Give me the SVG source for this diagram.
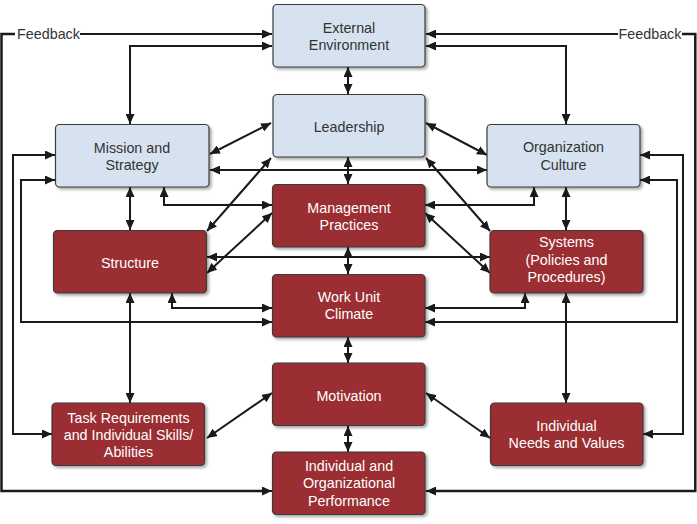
<svg xmlns="http://www.w3.org/2000/svg" width="697" height="524" viewBox="0 0 697 524">
<defs>
<style>
.bx{stroke:#3a3a3a;stroke-width:1.2}
.bl{fill:#d6e2f0}
.rd{fill:#9a2e33}
.t{font-family:"Liberation Sans",Arial,sans-serif;font-size:14.3px;text-anchor:middle}
.tb{fill:#333}
.tw{fill:#fff}
.c{fill:none;stroke:#1a1a1a;stroke-width:2;marker-start:url(#a);marker-end:url(#a)}
.e{fill:none;stroke:#1a1a1a;stroke-width:2;marker-end:url(#a)}
.f{fill:none;stroke:#1a1a1a;stroke-width:2.5}
</style>
<marker id="a" viewBox="0 0 10 9" refX="10" refY="4.5" markerWidth="10" markerHeight="9" markerUnits="userSpaceOnUse" orient="auto-start-reverse">
<path d="M0,0 L10,4.5 L0,9 z" fill="#1a1a1a"/>
</marker>
<filter id="sh" x="-10%" y="-10%" width="130%" height="140%">
<feDropShadow dx="2" dy="2" stdDeviation="1.5" flood-color="#000" flood-opacity="0.35"/>
</filter>
</defs>
<rect width="697" height="524" fill="#fff"/>

<g id="connectors">
<text class="t tb" x="48.5" y="39">Feedback</text>
<text class="t tb" x="650" y="39">Feedback</text>
<path class="e" d="M80,34 L272,34"/>
<path class="f" d="M15,34 L1.5,34 L1.5,491 L262,491"/>
<path class="e" d="M262,491 L272,491"/>
<path class="e" d="M618,34 L426,34"/>
<path class="f" d="M682,34 L695.3,34 L695.3,491 L436,491"/>
<path class="e" d="M436,491 L426,491"/>
<path class="c" d="M272,46 L130,46 L130,124"/>
<path class="c" d="M426,46 L566,46 L566,124"/>
<path class="c" d="M348,67 L348,94"/>
<path class="c" d="M210,154 L271,123"/>
<path class="c" d="M426,123 L487,155"/>
<path class="c" d="M210,170 L487,170"/>
<path class="c" d="M348,157 L348,184"/>
<path class="c" d="M271,158 L207,231"/>
<path class="c" d="M426,158 L490,231"/>
<path class="c" d="M272,213 L207,273"/>
<path class="c" d="M425,213 L490,273"/>
<path class="c" d="M164,187 L164,205 L272,205"/>
<path class="c" d="M534,187 L534,205 L425,205"/>
<path class="c" d="M130,187 L130,230"/>
<path class="c" d="M566,187 L566,230"/>
<path class="c" d="M207,257 L490,257"/>
<path class="c" d="M348,247 L348,274"/>
<path class="c" d="M172,293 L172,308 L272,308"/>
<path class="c" d="M525,293 L525,308 L425,308"/>
<path class="c" d="M55,180 L21,180 L21,322 L272,322"/>
<path class="c" d="M640,180 L677,180 L677,322 L425,322"/>
<path class="c" d="M55,155 L13,155 L13,434 L52,434"/>
<path class="c" d="M640,155 L683,155 L683,434 L643,434"/>
<path class="c" d="M130,293 L130,403"/>
<path class="c" d="M566,293 L566,403"/>
<path class="c" d="M348,337 L348,363"/>
<path class="c" d="M272,393 L207,438"/>
<path class="c" d="M426,393 L490,438"/>
<path class="c" d="M348,426 L348,452"/>
</g>

<g id="external-environment">
<rect class="bx bl" x="273" y="4.5" width="152" height="62.5" rx="4" filter="url(#sh)"/>
<text class="t tb" x="349" y="32.5">External</text>
<text class="t tb" x="349" y="50">Environment</text>
</g>
<g id="leadership">
<rect class="bx bl" x="273" y="94.5" width="152" height="62.5" rx="4" filter="url(#sh)"/>
<text class="t tb" x="349" y="131.5">Leadership</text>
</g>
<g id="mission-strategy">
<rect class="bx bl" x="55.5" y="124.5" width="153.5" height="62.5" rx="4" filter="url(#sh)"/>
<text class="t tb" x="132" y="152.5">Mission and</text>
<text class="t tb" x="132" y="170">Strategy</text>
</g>
<g id="organization-culture">
<rect class="bx bl" x="487" y="124.5" width="153" height="62.5" rx="4" filter="url(#sh)"/>
<text class="t tb" x="563.5" y="152">Organization</text>
<text class="t tb" x="563.5" y="169.5">Culture</text>
</g>
<g id="management-practices">
<rect class="bx rd" x="272.5" y="184.5" width="152.5" height="62.5" rx="4" filter="url(#sh)"/>
<text class="t tw" x="349" y="212.5">Management</text>
<text class="t tw" x="349" y="229.5">Practices</text>
</g>
<g id="structure">
<rect class="bx rd" x="53.5" y="230.5" width="153" height="62.5" rx="4" filter="url(#sh)"/>
<text class="t tw" x="130" y="267.5">Structure</text>
</g>
<g id="systems">
<rect class="bx rd" x="490" y="230.5" width="153" height="62.5" rx="4" filter="url(#sh)"/>
<text class="t tw" x="566.5" y="247.3">Systems</text>
<text class="t tw" x="566.5" y="265">(Policies and</text>
<text class="t tw" x="566.5" y="282.3">Procedures)</text>
</g>
<g id="work-unit-climate">
<rect class="bx rd" x="272.5" y="274.5" width="152.5" height="62.5" rx="4" filter="url(#sh)"/>
<text class="t tw" x="349" y="302">Work Unit</text>
<text class="t tw" x="349" y="319.3">Climate</text>
</g>
<g id="motivation">
<rect class="bx rd" x="272.5" y="363" width="152.5" height="62.5" rx="4" filter="url(#sh)"/>
<text class="t tw" x="349" y="401">Motivation</text>
</g>
<g id="performance">
<rect class="bx rd" x="272.5" y="452" width="152.5" height="62.5" rx="4" filter="url(#sh)"/>
<text class="t tw" x="349" y="471">Individual and</text>
<text class="t tw" x="349" y="488.3">Organizational</text>
<text class="t tw" x="349" y="505.7">Performance</text>
</g>
<g id="task-requirements">
<rect class="bx rd" x="52" y="403" width="152.5" height="62.5" rx="4" filter="url(#sh)"/>
<text class="t tw" x="128.5" y="422.7">Task Requirements</text>
<text class="t tw" x="128.5" y="440">and Individual Skills/</text>
<text class="t tw" x="128.5" y="457.3">Abilities</text>
</g>
<g id="individual-needs">
<rect class="bx rd" x="490.5" y="403" width="152.5" height="62.5" rx="4" filter="url(#sh)"/>
<text class="t tw" x="566.5" y="431">Individual</text>
<text class="t tw" x="566.5" y="448.3">Needs and Values</text>
</g>
</svg>
